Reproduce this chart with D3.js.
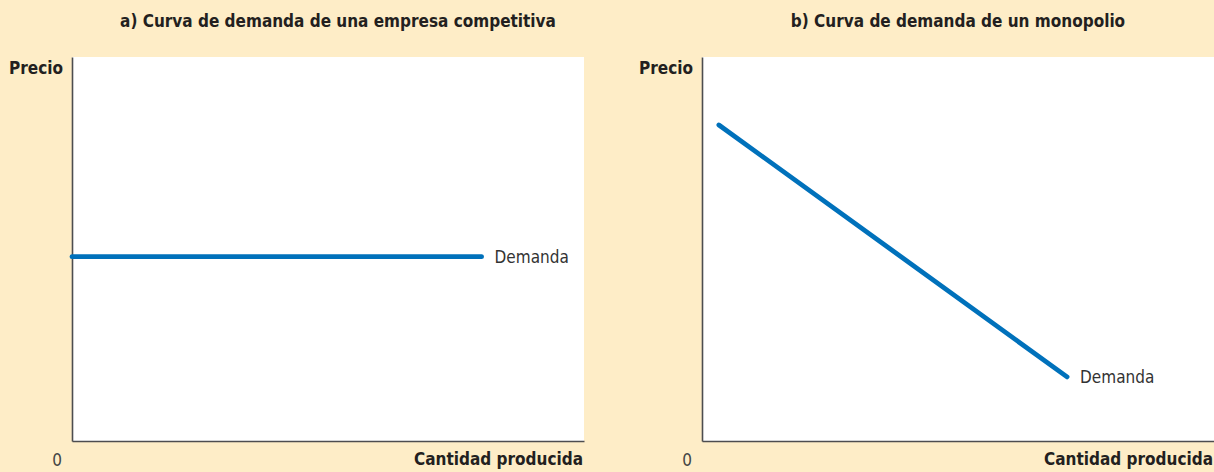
<!DOCTYPE html>
<html>
<head>
<meta charset="utf-8">
<script src="https://cdn.jsdelivr.net/npm/d3@7"></script>
<style>
  html, body { margin: 0; padding: 0; background: #feedc7; }
  svg { display: block; }
  text { font-family: "Liberation Sans Narrow", "DejaVu Sans Condensed", sans-serif; fill: #231f20; }
</style>
</head>
<body>
<div id="chart"></div>
<script>
// datos de cada panel (precio y cantidad en escala 0-100)
const panelTitles = ["a) Curva de demanda de una empresa competitiva", "b) Curva de demanda de un monopolio"];
const compQuantity = [0, 80];
const compPrice = [48, 48];
const monoQuantity = [3.3, 71.3];
const monoPrice = [82.3, 16.7];
const yLabel = "Precio";
const xLabel = "Cantidad producida";
const zeroLabel = "0";
const curveLabel = "Demanda";

document.addEventListener("DOMContentLoaded", function () {
    const width = 1214;
    const height = 472;

    const svg = d3.select("#chart").append("svg")
        .attr("width", width)
        .attr("height", height);

    svg.append("rect")
        .attr("width", width)
        .attr("height", height)
        .attr("fill", "#feedc7");

    const panels = [
        { title: panelTitles[0], qs: compQuantity, ps: compPrice, left: 72, titleShift: 10 },
        { title: panelTitles[1], qs: monoQuantity, ps: monoPrice, left: 702, titleShift: 0 }
    ];

    const plotW = 512;
    const top = 57;
    const bottom = 441;

    panels.forEach(p => {
        const g = svg.append("g");

        const x = d3.scaleLinear().domain([0, 100]).range([p.left, p.left + plotW]);
        const y = d3.scaleLinear().domain([0, 100]).range([bottom, top]);

        // área blanca
        g.append("rect")
            .attr("x", x(0))
            .attr("y", y(100))
            .attr("width", x(100) - x(0))
            .attr("height", y(0) - y(100))
            .attr("fill", "#ffffff");

        // título
        g.append("text")
            .attr("x", (x(0) + x(100)) / 2 + p.titleShift)
            .attr("y", 27)
            .attr("text-anchor", "middle")
            .style("font-size", "17px")
            .style("font-weight", "bold")
            .text(p.title);

        // ejes
        const axisX = g.append("g")
            .attr("transform", `translate(0, ${y(0)})`)
            .call(d3.axisBottom(x).tickValues([]).tickSizeOuter(0));
        const axisY = g.append("g")
            .attr("transform", `translate(${x(0)}, 0)`)
            .call(d3.axisLeft(y).tickValues([]).tickSizeOuter(0));
        [axisX, axisY].forEach(a => a.select(".domain")
            .attr("stroke", "#4d4d4f")
            .attr("stroke-width", 1.6));

        g.append("text")
            .attr("x", x(0) - 9)
            .attr("y", y(100) + 17)
            .attr("text-anchor", "end")
            .style("font-size", "17px")
            .style("font-weight", "bold")
            .text(yLabel);

        g.append("text")
            .attr("x", x(100) - 1)
            .attr("y", y(0) + 24)
            .attr("text-anchor", "end")
            .style("font-size", "17px")
            .style("font-weight", "bold")
            .text(xLabel);

        g.append("text")
            .attr("x", x(0) - 15)
            .attr("y", y(0) + 25)
            .attr("text-anchor", "middle")
            .style("font-size", "17px")
            .style("fill", "#444")
            .text(zeroLabel);

        // curva de demanda
        const pts = p.qs.map((q, i) => [q, p.ps[i]]);
        g.append("path")
            .datum(pts)
            .attr("d", d3.line().x(d => x(d[0])).y(d => y(d[1])))
            .attr("fill", "none")
            .attr("stroke", "#0071bb")
            .attr("stroke-width", 4.8)
            .attr("stroke-linecap", "round");

        const last = pts[pts.length - 1];
        g.append("text")
            .attr("x", x(last[0]) + 13)
            .attr("y", y(last[1]) + 6)
            .style("font-size", "17px")
            .style("fill", "#333")
            .text(curveLabel);
    });
});
</script>
</body>
</html>
